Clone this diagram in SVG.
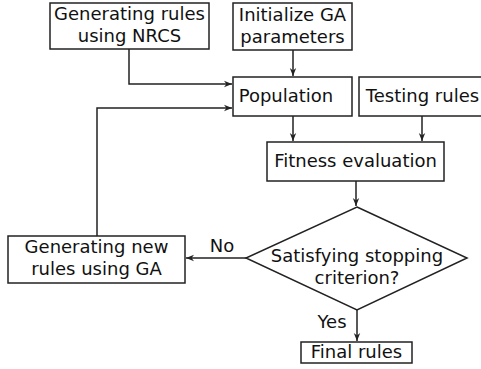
<svg xmlns="http://www.w3.org/2000/svg" width="481" height="369" viewBox="0 0 481 369">
<defs>
<style>
.box{fill:#fff;stroke:#222;stroke-width:1.5}
.t{font-family:"DejaVu Sans",sans-serif;font-size:18px;fill:#111;text-anchor:middle}
.c{fill:none;stroke:#222;stroke-width:1.5}
</style>
<marker id="ah" viewBox="0 0 10 10" refX="10" refY="5" markerWidth="8" markerHeight="8" orient="auto" markerUnits="userSpaceOnUse">
<path d="M0,1 L10,5 L0,9 L3,5 Z" fill="#222"/>
</marker>
</defs>
<rect width="481" height="369" fill="#fff"/>
<g id="connectors">
<path class="c" d="M129,49 V84 H232" marker-end="url(#ah)"/>
<path class="c" d="M293,50 V76" marker-end="url(#ah)"/>
<path class="c" d="M293,116 V141" marker-end="url(#ah)"/>
<path class="c" d="M422,116 V141" marker-end="url(#ah)"/>
<path class="c" d="M356,181 V206" marker-end="url(#ah)"/>
<path class="c" d="M246,258 H186" marker-end="url(#ah)"/>
<path class="c" d="M97,236 V108 H232" marker-end="url(#ah)"/>
<path class="c" d="M357,310 V341" marker-end="url(#ah)"/>
<text class="t" x="222" y="252">No</text>
<text class="t" x="332" y="328">Yes</text>
</g>
<g id="nrcs">
<rect class="box" x="50" y="3" width="159" height="46"/>
<text class="t" x="129.5" y="20">Generating rules</text>
<text class="t" x="129.5" y="42">using NRCS</text>
</g>
<g id="init">
<rect class="box" x="233" y="3" width="119" height="47"/>
<text class="t" x="292.5" y="21">Initialize GA</text>
<text class="t" x="292.5" y="43">parameters</text>
</g>
<g id="population">
<rect class="box" x="233" y="77" width="119" height="39"/>
<text class="t" x="286" y="102">Population</text>
</g>
<g id="testing">
<rect class="box" x="359" y="77" width="124" height="39"/>
<text class="t" x="422.5" y="102">Testing rules</text>
</g>
<g id="fitness">
<rect class="box" x="267" y="142" width="177" height="39"/>
<text class="t" x="355.5" y="167">Fitness evaluation</text>
</g>
<g id="decision">
<polygon class="box" points="357,207 467,258 357,310 246,258"/>
<text class="t" x="357" y="262">Satisfying stopping</text>
<text class="t" x="357" y="284">criterion?</text>
</g>
<g id="newrules">
<rect class="box" x="8" y="236" width="177" height="47"/>
<text class="t" x="96.5" y="253">Generating new</text>
<text class="t" x="96.5" y="275">rules using GA</text>
</g>
<g id="final">
<rect class="box" x="301" y="342" width="111" height="21"/>
<text class="t" x="356.5" y="358">Final rules</text>
</g>
</svg>
